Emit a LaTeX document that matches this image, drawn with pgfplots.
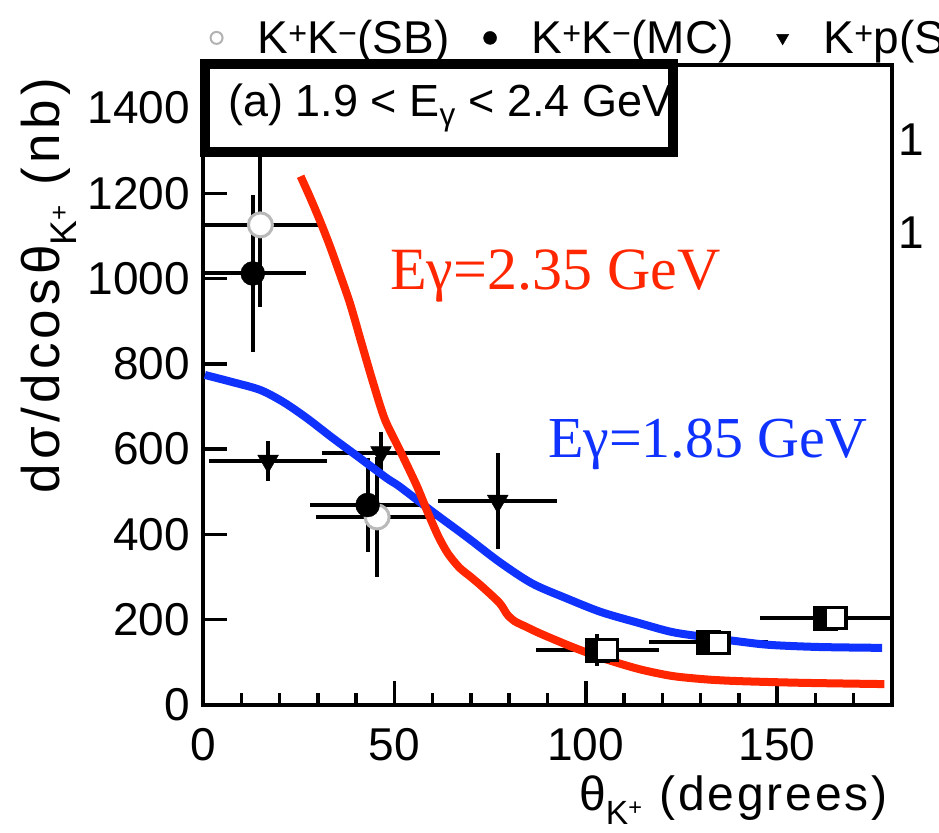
\documentclass[border=0pt]{standalone}
\usepackage{fontspec}
\setmainfont{Liberation Sans}
\newfontfamily\serif{Liberation Serif}
\newfontfamily\wideY[LetterSpace=8]{Liberation Sans}
\newfontfamily\wideX[LetterSpace=6]{Liberation Sans}
\usepackage{pgfplots}
\pgfplotsset{compat=1.18}
\definecolor{cred}{RGB}{255,38,0}
\definecolor{cblue}{RGB}{15,50,255}
\begin{document}
\begin{tikzpicture}
\useasboundingbox (-203pt,-127pt) rectangle (736pt,705pt);
\clip (-203pt,-127pt) rectangle (736pt,705pt);
\begin{axis}[
  at={(0pt,0pt)}, anchor=south west,
  scale only axis, width=689pt, height=639.6pt,
  xmin=0, xmax=180, ymin=0, ymax=1500,
  axis line style={line width=4pt},
  xtick={0,50,100,150},
  minor xtick={10,20,30,40,60,70,80,90,110,120,130,140,160,170},
  ytick={0,200,400,600,800,1000,1200,1400},
  xtick pos=bottom, ytick pos=left, tick align=inside,
  major tick length=24pt, minor tick length=12pt,
  every tick/.append style={black, line width=3.5pt},
  tick label style={font=\fontsize{46}{50}\selectfont, inner sep=0pt},
  yticklabel style={xshift=-13pt},
  xticklabel style={yshift=-23pt},
  /pgf/number format/assume math mode=true,
  /pgf/number format/1000 sep={},
  legend style={at={(0.011,1.043)}, anchor=west, draw=none, fill=none,
    inner sep=0pt, outer sep=0pt, legend columns=-1,
    font=\fontsize{46}{50}\selectfont,
    /tikz/every odd column/.append style={column sep=35pt},
    /tikz/every even column/.append style={column sep=0pt},
    nodes={inner sep=0pt}},
  legend cell align=left,
]
% K+p(SB) triangles
\addplot[forget plot, only marks, black, mark=triangle*, mark size=12pt,
  mark options={rotate=180, fill=black},
  error bars/.cd, x dir=both, x explicit, y dir=both, y explicit,
  error mark=none, error bar style={line width=4pt, black}]
  coordinates {(17,572) +- (15.5,47) (46.5,592) +- (15.5,48) (77,478) +- (15.5,113)};
% squares filled
\addplot[forget plot, only marks, black, mark=square*, mark size=12pt,
  mark options={fill=black},
  error bars/.cd, x dir=both, x explicit, y dir=both, y explicit,
  error mark=none, error bar style={line width=4pt, black}]
  coordinates {(103,129) +- (16,37) (132,147) +- (15.5,8) (162.5,204) +- (17,8)};
% squares open
\addplot[forget plot, only marks, black, mark=square*, mark size=10.5pt,
  mark options={fill=white, draw=black, line width=3.5pt}]
  coordinates {(105.5,129) (134.7,145) (165.3,204)};
% K+K-(SB) open circles
\addplot[forget plot, only marks, black, mark=*, mark size=12pt,
  mark options={fill=white, draw=gray!55, line width=3pt},
  error bars/.cd, x dir=both, x explicit, y dir=both, y explicit,
  error mark=none, error bar style={line width=4pt, black}]
  coordinates {(15,1126) +- (15,192) (45.5,441) +- (16,141)};
% K+K-(MC) filled circles
\addplot[forget plot, only marks, black, mark=*, mark size=12pt,
  mark options={fill=black},
  error bars/.cd, x dir=both, x explicit, y dir=both, y explicit,
  error mark=none, error bar style={line width=4pt, black}]
  coordinates {(13,1012) +- (14,184) (43,469) +- (15,110)};
% blue curve E=1.85
\addplot[forget plot, cblue, line width=8pt, smooth, tension=0.5] coordinates {
(0.5,774) (7.8,757) (14.9,739) (20.9,711) (27.1,673) (33.9,626) (41,579)
(48,532) (51.4,512) (60,453) (68.9,394) (77.5,335) (86,285) (95,250)
(104,218) (114,192) (122.6,171) (131.5,159) (140,149) (148,141) (161,136) (177.4,134)};
% red curve E=2.35
\addplot[forget plot, cred, line width=8pt, smooth, tension=0.45] coordinates {
(25.5,1240) (28,1190) (30.5,1137) (33,1080) (35,1030) (38.4,942) (41.4,849)
(44.4,757) (47.5,670) (51.4,598) (55.8,515) (58.7,452) (61.5,395) (64,355)
(67,322) (70,300) (73,277) (77.5,239) (79.5,212) (81.5,196) (84.5,183)
(88,168) (96.5,136) (105,108) (114,84) (122.6,68) (131.5,60) (140,56)
(156.5,52) (178,49)};
\addlegendimage{only marks, mark=*, mark size=6pt, mark options={fill=white, draw=gray!60, line width=2pt}}
\addlegendentry{\makebox[226pt][l]{K\textsuperscript{+}K\textsuperscript{−}(SB)}}
\addlegendimage{only marks, mark=*, mark size=6.5pt, black}
\addlegendentry{\makebox[245pt][l]{K\textsuperscript{+}K\textsuperscript{−}(MC)}}
\addlegendimage{only marks, mark=triangle*, mark size=7pt, black, mark options={rotate=180}}
\addlegendentry{K\textsuperscript{+}p(SB)}
\end{axis}
\draw[line width=10pt, fill=white] (2pt,552.5pt) rectangle (470pt,641pt);
\node[anchor=base west, inner sep=0pt, font=\fontsize{45}{50}\selectfont] at (25pt,588pt)
  {(a) 1.9 < E\textsubscript{γ} < 2.4 GeV};
\node[rotate=90, anchor=base east, inner sep=0pt, font=\wideY\fontsize{53}{56}\selectfont] at (-143pt,627pt)
  {dσ/dcosθ\textsubscript{K\textsuperscript{+}} (nb)};
\node[anchor=base east, inner sep=0pt, font=\wideX\fontsize{48}{52}\selectfont] at (685pt,-105pt)
  {θ\textsubscript{K\textsuperscript{+}} (degrees)};
\node[anchor=base west, inner sep=0pt, text=cred, font=\serif\fontsize{60}{62}\selectfont] at (187pt,415pt)
  {Eγ=2.35 GeV};
\node[anchor=base west, inner sep=0pt, text=cblue, font=\serif\fontsize{58}{60}\selectfont] at (345pt,247pt)
  {Eγ=1.85 GeV};
\node[inner sep=0pt, font=\fontsize{46}{50}\selectfont] at (708pt,565pt) {1};
\node[inner sep=0pt, font=\fontsize{46}{50}\selectfont] at (708pt,472pt) {1};
\end{tikzpicture}
\end{document}
